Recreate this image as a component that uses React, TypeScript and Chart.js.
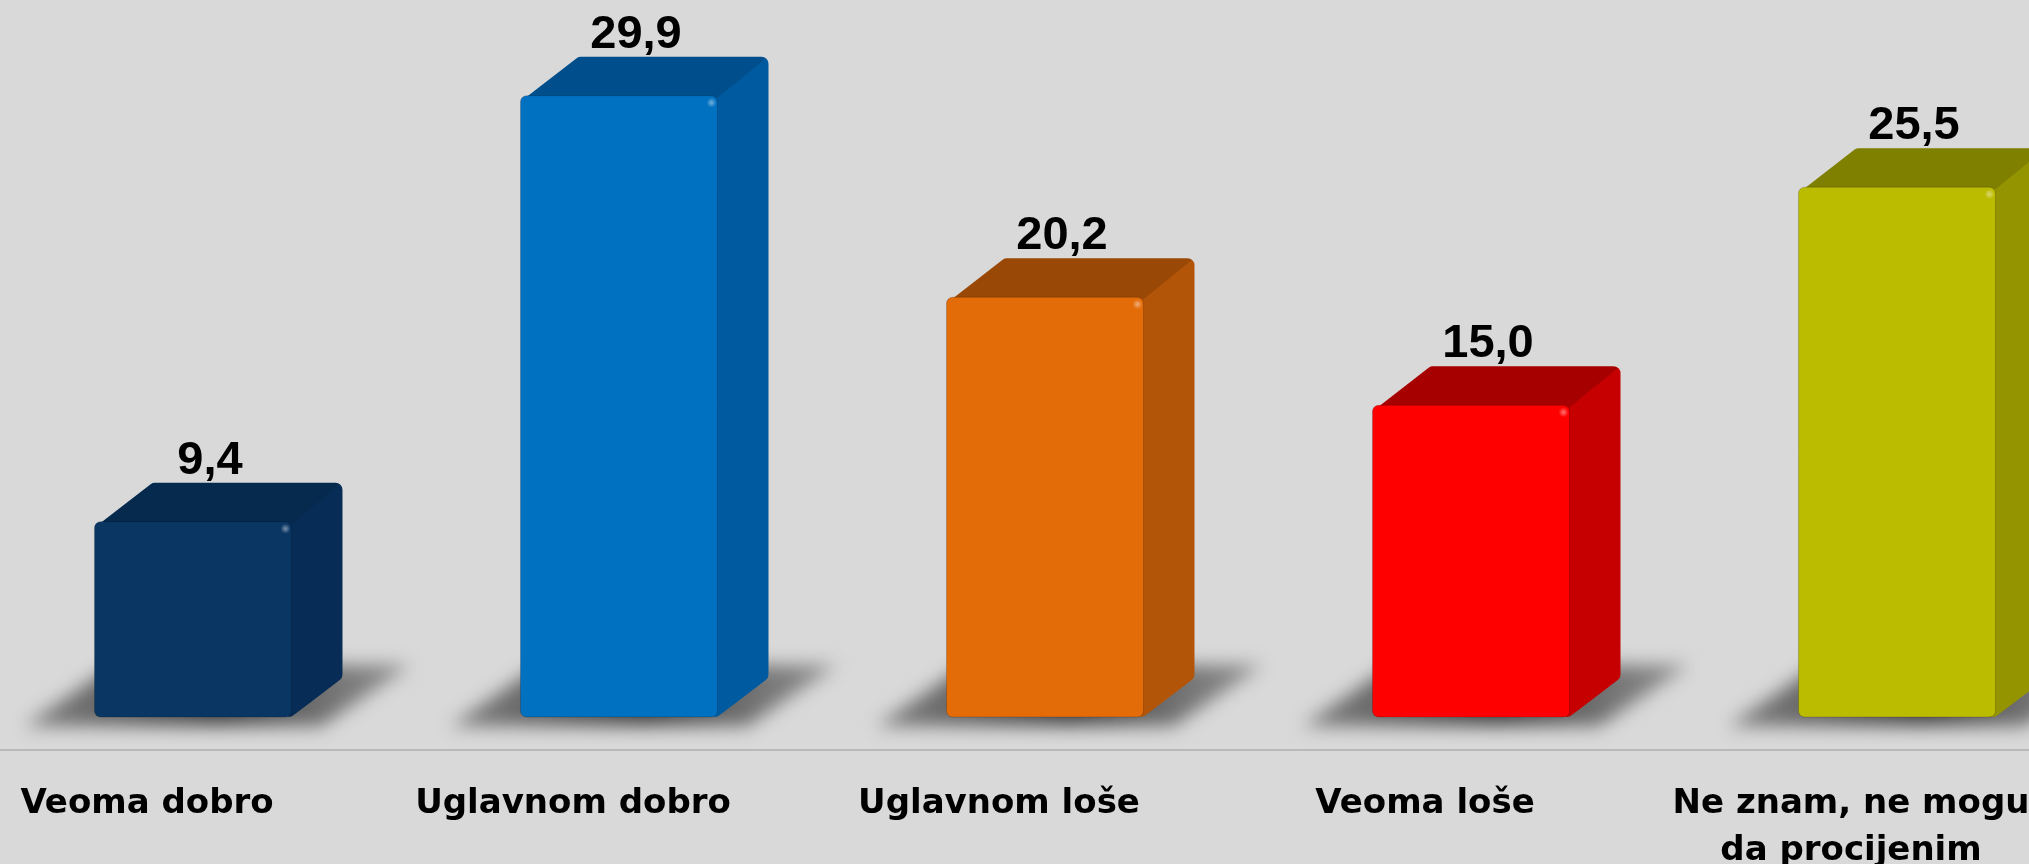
import React, { useEffect, useRef } from "react";
import { Chart, registerables } from "chart.js";

Chart.register(...registerables);

// Survey answers and their shares (%)
const categories: (string | string[])[] = [
  "Veoma dobro",
  "Uglavnom dobro",
  "Uglavnom loše",
  "Veoma loše",
  ["Ne znam, ne mogu", "da procijenim"],
];
const values: number[] = [9.4, 29.9, 20.2, 15.0, 25.5];

// Face colours of each 3D column
const frontColors = ["#0a3663", "#0070c0", "#e36c09", "#ff0000", "#bbbb00"];
const topColors = ["#062a4e", "#004f8c", "#994806", "#a60000", "#7f7f00"];
const sideColors = ["#072c55", "#005a9f", "#b35508", "#c60000", "#949400"];

const BG = "#d9d9d9";
const SHIFT = 46; // front face sits right of the category centre
const DEPTH_L = 58;
const DEPTH_R = 51;
const DEPTH_Y = 39;

const fmt = (v: number) => v.toFixed(1).replace(".", ",");

function roundedPoly(ctx: CanvasRenderingContext2D, pts: [number, number][], r: number) {
  ctx.beginPath();
  const n = pts.length;
  for (let i = 0; i < n; i++) {
    const p0 = pts[(i - 1 + n) % n];
    const p1 = pts[i];
    const p2 = pts[(i + 1) % n];
    const m1: [number, number] = [(p0[0] + p1[0]) / 2, (p0[1] + p1[1]) / 2];
    if (i === 0) ctx.moveTo(m1[0], m1[1]);
    ctx.arcTo(p1[0], p1[1], p2[0], p2[1], r);
  }
  ctx.closePath();
}

function quad(ctx: CanvasRenderingContext2D, pts: [number, number][]) {
  ctx.beginPath();
  pts.forEach((p, k) => (k === 0 ? ctx.moveTo(p[0], p[1]) : ctx.lineTo(p[0], p[1])));
  ctx.closePath();
}

const bar3d = {
  id: "bar3d",
  beforeDatasetDraw() {
    return false;
  },
  afterDatasetsDraw(chart: any) {
    const ctx: CanvasRenderingContext2D = chart.ctx;
    const meta = chart.getDatasetMeta(0);
    const area = chart.chartArea;

    // floor separator
    ctx.save();
    ctx.strokeStyle = "#b9b9b9";
    ctx.lineWidth = 2;
    ctx.beginPath();
    ctx.moveTo(0, area.bottom + 33);
    ctx.lineTo(chart.width, area.bottom + 33);
    ctx.stroke();
    ctx.restore();

    const geo = meta.data.map((bar: any) => {
      const { x, y, base, width } = bar.getProps(["x", "y", "base", "width"], true);
      const fl = x - width / 2 + SHIFT;
      const fr = x + width / 2 + SHIFT;
      return { fl, fr, top: y, base, bl: fl + DEPTH_L, br: fr + DEPTH_R };
    });

    // soft floor shadows
    geo.forEach((g: any) => {
      ctx.save();
      ctx.filter = "blur(9px)";
      const lg = ctx.createLinearGradient(g.fl - 70, 0, g.br + 70, 0);
      lg.addColorStop(0, "rgba(40,40,40,0.5)");
      lg.addColorStop(0.5, "rgba(30,30,30,0.8)");
      lg.addColorStop(1, "rgba(60,60,60,0.45)");
      ctx.fillStyle = lg;
      ctx.beginPath();
      ctx.moveTo(g.fl - 70, g.base + 9);
      ctx.lineTo(g.fr + 30, g.base + 9);
      ctx.lineTo(g.br + 68, g.base - 52);
      ctx.lineTo(g.fl + 20, g.base - 52);
      ctx.closePath();
      ctx.fill();
      ctx.restore();
    });

    geo.forEach((g: any, i: number) => {
      const topB = g.top - DEPTH_Y;
      const baseB = g.base - DEPTH_Y;

      // top and side faces, clipped to a rounded outline of the block
      ctx.save();
      roundedPoly(
        ctx,
        [
          [g.fl, g.top + 6],
          [g.bl, topB],
          [g.br, topB],
          [g.br, baseB],
          [g.fr, g.base],
          [g.fl, g.base],
        ],
        7
      );
      ctx.clip();
      ctx.fillStyle = sideColors[i];
      quad(ctx, [[g.fr - 3, g.top], [g.br + 2, topB - 2], [g.br + 2, baseB], [g.fr - 3, g.base + 2]]);
      ctx.fill();
      ctx.fillStyle = topColors[i];
      quad(ctx, [[g.fl - 2, g.top + 2], [g.bl - 2, topB - 2], [g.br + 2, topB - 2], [g.fr, g.top + 2]]);
      ctx.fill();
      ctx.restore();

      // front face
      ctx.save();
      ctx.fillStyle = frontColors[i];
      ctx.beginPath();
      (ctx as any).roundRect(g.fl, g.top, g.fr - g.fl, g.base - g.top, 6);
      ctx.fill();
      ctx.strokeStyle = "rgba(0,0,0,0.18)";
      ctx.lineWidth = 1;
      ctx.stroke();

      // small glint on the front corner
      const gx = g.fr - 6;
      const gy = g.top + 7;
      const rg = ctx.createRadialGradient(gx, gy, 0, gx, gy, 5);
      rg.addColorStop(0, "rgba(255,255,255,0.45)");
      rg.addColorStop(1, "rgba(255,255,255,0)");
      ctx.fillStyle = rg;
      ctx.fillRect(gx - 5, gy - 5, 10, 10);
      ctx.restore();

      // value label
      ctx.save();
      ctx.fillStyle = "#000";
      ctx.font = "bold 47px 'Liberation Sans', Arial, sans-serif";
      ctx.textAlign = "center";
      ctx.textBaseline = "alphabetic";
      ctx.fillText(fmt(values[i]), (g.fl + g.fr) / 2 + 17, topB - 9);
      ctx.restore();
    });
  },
};

export default function App() {
  const ref = useRef<HTMLCanvasElement>(null);

  useEffect(() => {
    document.body.style.margin = "0";
    document.body.style.overflow = "hidden";
    const chart = new Chart(ref.current as HTMLCanvasElement, {
      type: "bar",
      data: {
        labels: categories,
        datasets: [
          {
            data: values,
            backgroundColor: frontColors,
            categoryPercentage: 1,
            barPercentage: 0.4624,
          },
        ],
      },
      options: {
        responsive: false,
        animation: false,
        devicePixelRatio: 1,
        layout: { padding: { top: 10.5, left: 0, right: 0, bottom: 0 } },
        plugins: {
          legend: { display: false },
          tooltip: { enabled: false },
        },
        scales: {
          y: { display: false, min: 0, max: 34 },
          x: {
            grid: { display: false, drawTicks: true, tickLength: 63 },
            border: { display: false },
            ticks: {
              color: "#000",
              padding: 0,
              autoSkip: false,
              maxRotation: 0,
              font: { family: "'DejaVu Sans', sans-serif", weight: "bold", size: 34, lineHeight: 1.4 },
            },
            afterFit: (s: any) => {
              s.height = 147;
            },
          },
        },
      },
      plugins: [bar3d],
    } as any);
    return () => chart.destroy();
  }, []);

  return (
    <div
      style={{
        position: "fixed",
        left: 0,
        top: 0,
        width: 2029,
        height: 864,
        overflow: "hidden",
        background: BG,
      }}
    >
      <canvas ref={ref} width={2130} height={864} style={{ position: "absolute", left: -66, top: 0 }} />
    </div>
  );
}
